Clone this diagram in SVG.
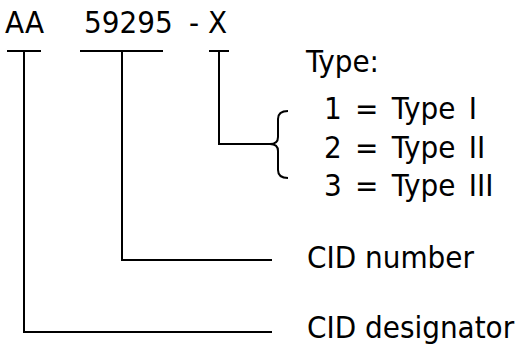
<svg xmlns="http://www.w3.org/2000/svg" width="519" height="347" viewBox="0 0 519 347">
  <style>
    text { font-family: "DejaVu Sans Condensed", "DejaVu Sans", sans-serif; font-size: 31px; fill: #000; }
    .opt { word-spacing: 4.5px; }
    .ln { fill: none; stroke: #000; stroke-width: 2; }
  </style>
  <rect width="519" height="347" fill="#fff"/>

  <!-- part number fields -->
  <g id="field-designator">
    <text x="5" y="33">AA</text>
  </g>
  <g id="field-number">
    <text x="84" y="33">59295</text>
  </g>
  <g id="field-type">
    <text x="189" y="33">- X</text>
  </g>

  <!-- descriptions -->
  <g id="type-legend">
    <text x="306" y="72">Type:</text>
    <text class="opt" x="324" y="119">1 = Type I</text>
    <text class="opt" x="324" y="158">2 = Type II</text>
    <text class="opt" x="324" y="196">3 = Type III</text>
  </g>
  <g id="label-number">
    <text x="307" y="268">CID number</text>
  </g>
  <g id="label-designator">
    <text x="307" y="338">CID designator</text>
  </g>

  <!-- leader lines -->
  <g id="connectors">
    <path class="ln" d="M7 51 H41 M24 51 V332 H272"/>
    <path class="ln" d="M80 51 H163 M122 51 V260 H272"/>
    <path class="ln" d="M209 51 H229 M219 51 V144 H270"/>
    <path class="ln" d="M288 111 Q278 111 278 119 V137 Q278 144 270 144 Q278 144 278 151 V170 Q278 178 288 178"/>
  </g>
</svg>
